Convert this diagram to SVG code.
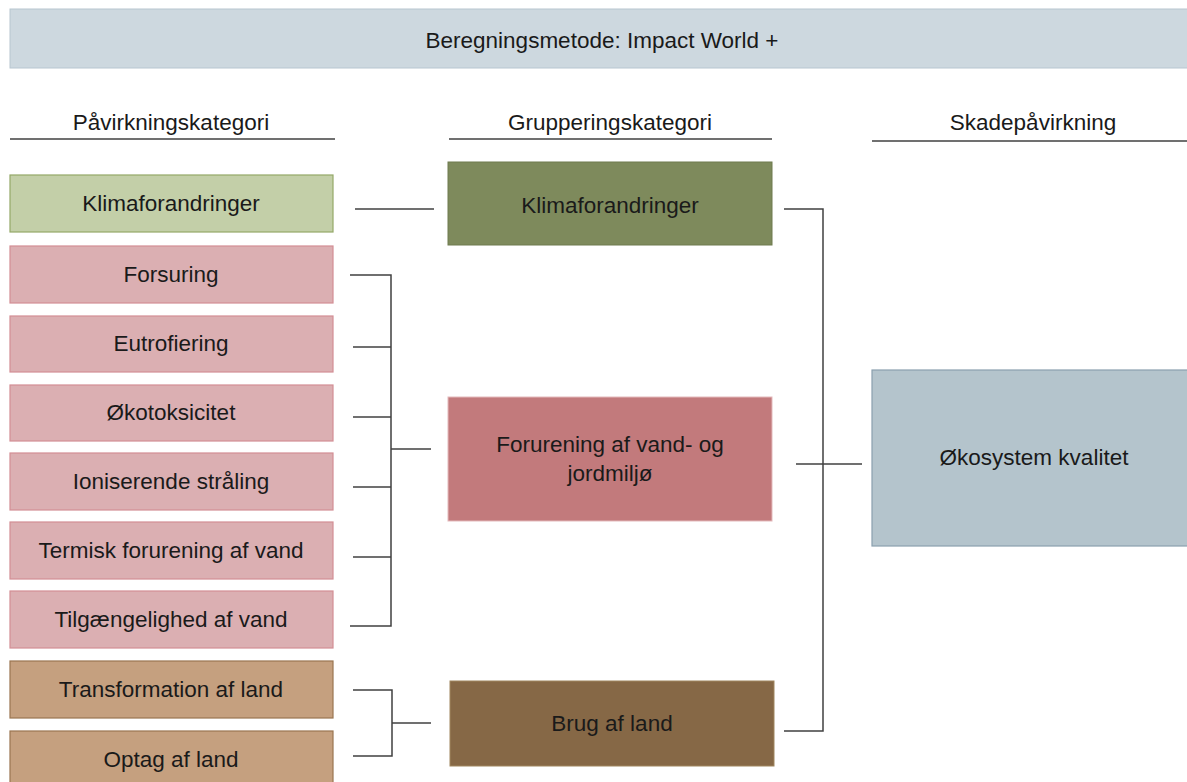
<svg xmlns="http://www.w3.org/2000/svg" width="1187" height="782" viewBox="0 0 1187 782">
<style>
text{font-family:"Liberation Sans",Arial,sans-serif;font-size:22.5px;fill:#1a1a1a;text-anchor:middle;dominant-baseline:central}
.pink{fill:#dbafb2;stroke:#d38e94;stroke-width:1.2}
.lg{fill:#c3cfa8;stroke:#94a868;stroke-width:1.2}
.lb{fill:#c5a07f;stroke:#9a7550;stroke-width:1.2}
.hdr{stroke:#404040;stroke-width:1.3}
.c{fill:none;stroke:#404040;stroke-width:1.5}
</style>
<rect width="1187" height="782" fill="#ffffff"/>
<g id="title">
<rect x="10" y="9" width="1182" height="59" fill="#cdd8df" stroke="#b7c6d0" stroke-width="1"/>
<text x="602" y="40">Beregningsmetode: Impact World +</text>
</g>
<g id="headers">
<text x="171" y="122">Påvirkningskategori</text>
<line class="hdr" x1="10" y1="139" x2="335" y2="139"/>
<text x="610" y="122">Grupperingskategori</text>
<line class="hdr" x1="449" y1="139" x2="772" y2="139"/>
<text x="1033" y="122">Skadepåvirkning</text>
<line class="hdr" x1="872" y1="141" x2="1187" y2="141"/>
</g>
<g id="n-klima1"><rect class="lg" x="10" y="175" width="323" height="57"/><text x="171" y="203">Klimaforandringer</text></g>
<g id="n-forsuring"><rect class="pink" x="10" y="246" width="323" height="57"/><text x="171" y="274">Forsuring</text></g>
<g id="n-eutro"><rect class="pink" x="10" y="316" width="323" height="56"/><text x="171" y="343">Eutrofiering</text></g>
<g id="n-oko"><rect class="pink" x="10" y="385" width="323" height="56"/><text x="171" y="412">Økotoksicitet</text></g>
<g id="n-ion"><rect class="pink" x="10" y="453" width="323" height="57"/><text x="171" y="481">Ioniserende stråling</text></g>
<g id="n-term"><rect class="pink" x="10" y="522" width="323" height="57"/><text x="171" y="550">Termisk forurening af vand</text></g>
<g id="n-tilg"><rect class="pink" x="10" y="591" width="323" height="57"/><text x="171" y="619">Tilgængelighed af vand</text></g>
<g id="n-trans"><rect class="lb" x="10" y="661" width="323" height="57"/><text x="171" y="689">Transformation af land</text></g>
<g id="n-optag"><rect class="lb" x="10" y="731" width="323" height="60"/><text x="171" y="759">Optag af land</text></g>
<g id="n-klima2"><rect x="448" y="162" width="324" height="83" fill="#7e8a5c" stroke="#6f7b4e" stroke-width="1"/><text x="610" y="205">Klimaforandringer</text></g>
<g id="n-forurening"><rect x="448" y="397" width="324" height="124" fill="#c27a7c" stroke="#e3b9bb" stroke-width="1"/><text x="610" y="444">Forurening af vand- og</text><text x="610" y="473">jordmiljø</text></g>
<g id="n-brug"><rect x="450" y="681" width="324" height="85" fill="#866846" stroke="#a0865f" stroke-width="1"/><text x="612" y="723">Brug af land</text></g>
<g id="n-okosystem"><rect x="872" y="370" width="320" height="176" fill="#b4c4cc" stroke="#8aa0ae" stroke-width="1.2"/><text x="1034" y="457">Økosystem kvalitet</text></g>
<g id="connectors">
<line class="c" x1="355" y1="209" x2="434" y2="209"/>
<polyline class="c" points="350,275 391,275 391,626 350,626"/>
<line class="c" x1="353" y1="347" x2="391" y2="347"/>
<line class="c" x1="353" y1="417" x2="391" y2="417"/>
<line class="c" x1="353" y1="487" x2="391" y2="487"/>
<line class="c" x1="353" y1="557" x2="391" y2="557"/>
<line class="c" x1="391" y1="449" x2="431" y2="449"/>
<polyline class="c" points="353,690 392,690 392,756 353,756"/>
<line class="c" x1="392" y1="723" x2="431" y2="723"/>
<polyline class="c" points="784,209 823,209 823,731 784,731"/>
<line class="c" x1="796" y1="464" x2="862" y2="464"/>
</g>
</svg>
